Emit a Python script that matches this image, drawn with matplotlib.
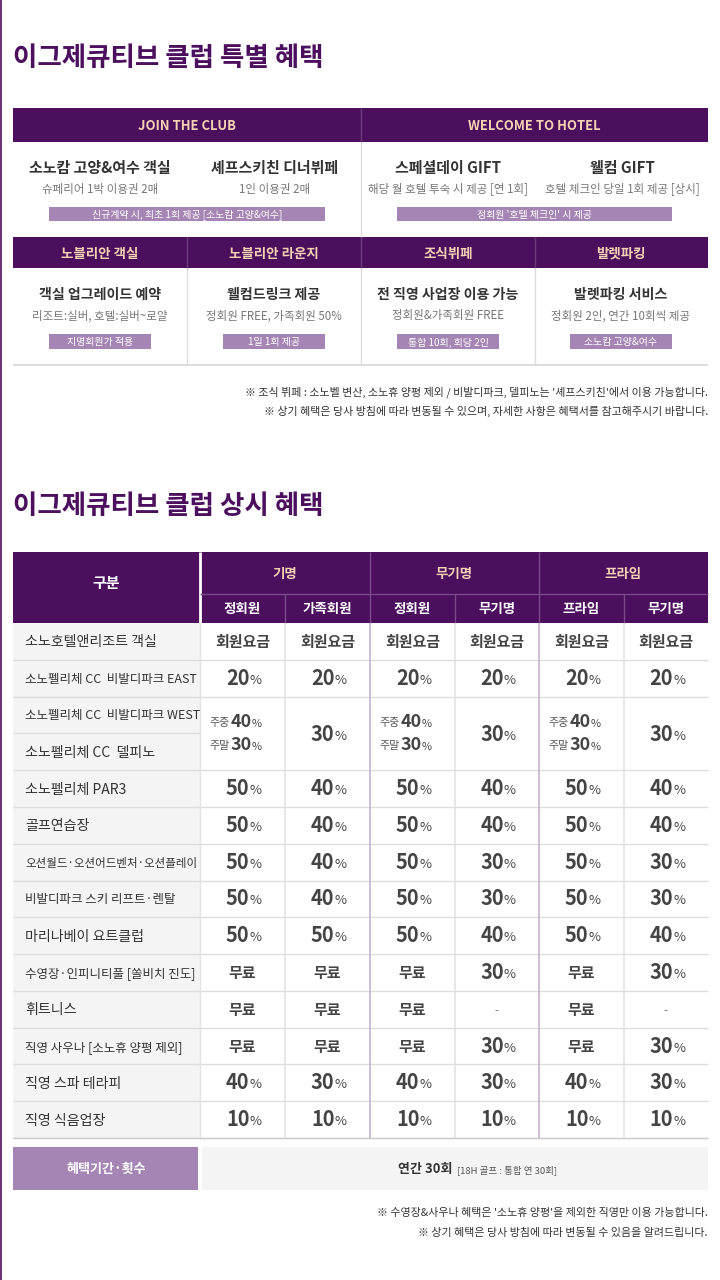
import matplotlib
matplotlib.use("Agg")
import matplotlib.pyplot as plt
from matplotlib.patches import Rectangle
from matplotlib import font_manager

names = {f.name for f in font_manager.fontManager.ttflist}
FONT = [n for n in ["Noto Sans CJK KR", "Noto Sans CJK JP", "Noto Sans CJK SC", "Noto Sans CJK TC"] if n in names] + ["DejaVu Sans"]
PURPLE = "#4b0f5e"
PEACH = "#f6d2b4"
TAG = "#a585b4"
DARK = "#333333"
GRAY = "#777777"

title1 = "이그제큐티브 클럽 특별 혜택"
title2 = "이그제큐티브 클럽 상시 혜택"
top_heads = ["JOIN THE CLUB", "WELCOME TO HOTEL"]
top_items = ["소노캄 고양&여수 객실", "셰프스키친 디너뷔페", "스페셜데이 GIFT", "웰컴 GIFT"]
top_subs = ["슈페리어 1박 이용권 2매", "1인 이용권 2매", "해당 월 호텔 투숙 시 제공 [연 1회]", "호텔 체크인 당일 1회 제공 [상시]"]
top_tags = ["신규계약 시, 최초 1회 제공 [소노캄 고양&여수]", "정회원 '호텔 체크인' 시 제공"]
mid_heads = ["노블리안 객실", "노블리안 라운지", "조식뷔페", "발렛파킹"]
mid_items = ["객실 업그레이드 예약", "웰컴드링크 제공", "전 직영 사업장 이용 가능", "발렛파킹 서비스"]
mid_subs = ["리조트:실버, 호텔:실버~로얄", "정회원 FREE, 가족회원 50%", "정회원&가족회원 FREE", "정회원 2인, 연간 10회씩 제공"]
mid_tags = ["지명회원가 적용", "1일 1회 제공", "통합 10회, 회당 2인", "소노캄 고양&여수"]
notes1 = ["※ 조식 뷔페 : 소노벨 변산, 소노휴 양평 제외 / 비발디파크, 델피노는 '셰프스키친'에서 이용 가능합니다.",
          "※ 상기 혜택은 당사 방침에 따라 변동될 수 있으며, 자세한 사항은 혜택서를 참고해주시기 바랍니다."]

groups = ["기명", "무기명", "프라임"]
subcols = ["정회원", "가족회원", "정회원", "무기명", "프라임", "무기명"]
row_labels = ["소노호텔앤리조트 객실", "소노펠리체 CC  비발디파크 EAST", "소노펠리체 CC  비발디파크 WEST",
              "소노펠리체 CC  델피노", "소노펠리체 PAR3", "골프연습장", "오션월드·오션어드벤처·오션플레이",
              "비발디파크 스키 리프트·렌탈", "마리나베이 요트클럽", "수영장·인피니티풀 [쏠비치 진도]",
              "휘트니스", "직영 사우나 [소노휴 양평 제외]", "직영 스파 테라피", "직영 식음업장"]
values = [
    ["회원요금"] * 6,
    ["20"] * 6,
    ["W", "30", "W", "30", "W", "30"],
    None,
    ["50", "40", "50", "40", "50", "40"],
    ["50", "40", "50", "40", "50", "40"],
    ["50", "40", "50", "30", "50", "30"],
    ["50", "40", "50", "30", "50", "30"],
    ["50", "50", "50", "40", "50", "40"],
    ["무료", "무료", "무료", "30", "무료", "30"],
    ["무료", "무료", "무료", "-", "무료", "-"],
    ["무료", "무료", "무료", "30", "무료", "30"],
    ["40", "30", "40", "30", "40", "30"],
    ["10"] * 6,
]
split_vals = ("40", "30")
footer_label = "혜택기간·횟수"
footer_text = "연간 30회"
footer_small = "[18H 골프 : 통합 연 30회]"
notes2 = ["※ 수영장&사우나 혜택은 '소노휴 양평'을 제외한 직영만 이용 가능합니다.",
          "※ 상기 혜택은 당사 방침에 따라 변동될 수 있음을 알려드립니다."]

fig = plt.figure(figsize=(7.2, 12.8), dpi=100)
ax = fig.add_axes([0, 0, 1, 1])
ax.set_xlim(0, 720); ax.set_ylim(1280, 0); ax.axis("off")
P = 0.72
DY = 2

def T(x, y, s, px, color=DARK, ha="center", weight="normal", **kw):
    ax.text(x, y + DY, s, fontsize=px * P, color=color, ha=ha, va="center", family=FONT, fontweight=weight, **kw)

def R(x0, y0, x1, y1, color, **kw):
    ax.add_patch(Rectangle((x0, y0), x1 - x0, y1 - y0, facecolor=color, edgecolor="none", **kw))

def L(x0, y0, x1, y1, color="#dddddd", lw=1):
    ax.plot([x0, x1], [y0, y1], color=color, lw=lw, solid_capstyle="butt")

L(0.5, 0, 0.5, 1280, PURPLE, 1.2)

# ---- section 1
T(13, 57, title1, 26.5, PURPLE, ha="left", weight="bold")
R(13, 108, 708, 142, PURPLE)
L(361, 108, 361, 142, "#6a3a7a")
for i, h in enumerate(top_heads):
    T(187 + i * 347, 124, h, 13, PEACH, weight="bold")
xs4 = [100, 275, 448, 622]
for i in range(4):
    T(xs4[i], 166, top_items[i], 15, DARK, weight="bold")
    T(xs4[i], 187, top_subs[i], 11.5, GRAY)
for i, (a, b) in enumerate([(49, 325), (397, 672)]):
    R(a, 207, b, 221, TAG)
    T((a + b) / 2, 213, top_tags[i], 10, "white")
L(361, 142, 361, 237)
R(13, 237, 708, 268, PURPLE)
xs_mid = [100, 274, 448, 621]
for i in range(4):
    if i:
        L(13 + i * 174, 237, 13 + i * 174, 268, "#6a3a7a")
        L(13 + i * 174, 268, 13 + i * 174, 365)
    T(xs_mid[i], 252, mid_heads[i], 13.5, PEACH, weight="bold")
    T(xs_mid[i], 293, mid_items[i], 14, DARK, weight="bold")
    T(xs_mid[i], 314, mid_subs[i], 11.5, GRAY)
    R(xs_mid[i] - 51, 334, xs_mid[i] + 51, 349, TAG)
    T(xs_mid[i], 340.5, mid_tags[i], 10, "white")
L(13, 365, 708, 365, "#dddddd", 1.5)
for j, n in enumerate(notes1):
    T(708, 390 + j * 19, n, 11, DARK, ha="right")

# ---- section 2
T(13, 504, title2, 26.5, PURPLE, ha="left", weight="bold")
x_edges = [200, 285, 370, 455, 539, 624, 708]
R(13, 552, 708, 623, PURPLE)
L(200, 552, 200, 623, "white", 2)
T(106, 581, "구분", 15, "white", weight="bold")
for g in range(3):
    x0, x1 = x_edges[2 * g], x_edges[2 * g + 2]
    T((x0 + x1) / 2, 572, groups[g], 13.5, PEACH, weight="bold")
    if g:
        L(x0, 552, x0, 623, "#7a4a8a")
L(200, 594, 708, 594, "#7a4a8a")
for c in range(6):
    xc = (x_edges[c] + x_edges[c + 1]) / 2
    T(xc, 607, subcols[c], 13.5, "white", weight="bold")
    if c % 2 == 1:
        L(x_edges[c], 594, x_edges[c], 623, "#7a4a8a")

top = 623
rh = (1138 - 623) / len(row_labels)
R(13, top, 200, 1138, "#f4f4f4")

def pct(xc, y, num, big=20, small=13):
    T(xc + 7, y - 1, num, big, "#444444", ha="right", weight="bold")
    T(xc + 7, y + 1, "%", small, "#444444", ha="left")

for r, lab in enumerate(row_labels):
    y0 = top + r * rh; yc = y0 + rh / 2 - 1
    if len(lab) <= 14:
        fs = 14
    elif lab.startswith("오션"):
        fs = 11.5
    else:
        fs = 12.5
    T(25, yc, lab, fs, DARK, ha="left")
    if r != 2:
        L(13, y0 + rh, 708, y0 + rh)
    else:
        L(13, y0 + rh, 200, y0 + rh)
    vals = values[r]
    if vals is None:
        continue
    for c, v in enumerate(vals):
        xc = (x_edges[c] + x_edges[c + 1]) / 2
        if r == 2:
            ym = y0 + rh
            if v == "W":
                for k, (lbl, dy) in enumerate([("주중", -12), ("주말", 11)]):
                    T(xc - 13, ym + dy, lbl, 11, "#555555", ha="right")
                    T(xc - 12, ym + dy - 1, split_vals[k], 18, "#444444", ha="left", weight="bold")
                    T(xc + 9, ym + dy + 1, "%", 11, "#444444", ha="left")
            else:
                pct(xc, ym, v)
        elif v.isdigit():
            pct(xc, yc, v)
        elif v == "-":
            T(xc, yc, v, 12, "#888888")
        else:
            T(xc, yc, v, 15, "#444444", weight="bold")
for c in range(1, 6):
    col = "#c7b2cf" if c % 2 == 0 else "#e3e3e3"
    L(x_edges[c], top, x_edges[c], 1138, col, 1.2)
L(200, top, 200, 1138, "#e3e3e3")
L(13, 1138, 708, 1138, "#cccccc")

R(13, 1147, 198, 1190, TAG)
T(106, 1167, footer_label, 13, "white", weight="bold")
R(202, 1147, 708, 1190, "#f4f4f4")
T(452, 1167, footer_text, 13, DARK, ha="right", weight="bold")
T(457, 1168, footer_small, 9.5, "#555555", ha="left")

for j, n in enumerate(notes2):
    T(708, 1211 + j * 20, n, 11, DARK, ha="right")

fig.savefig("out.png", dpi=100)
